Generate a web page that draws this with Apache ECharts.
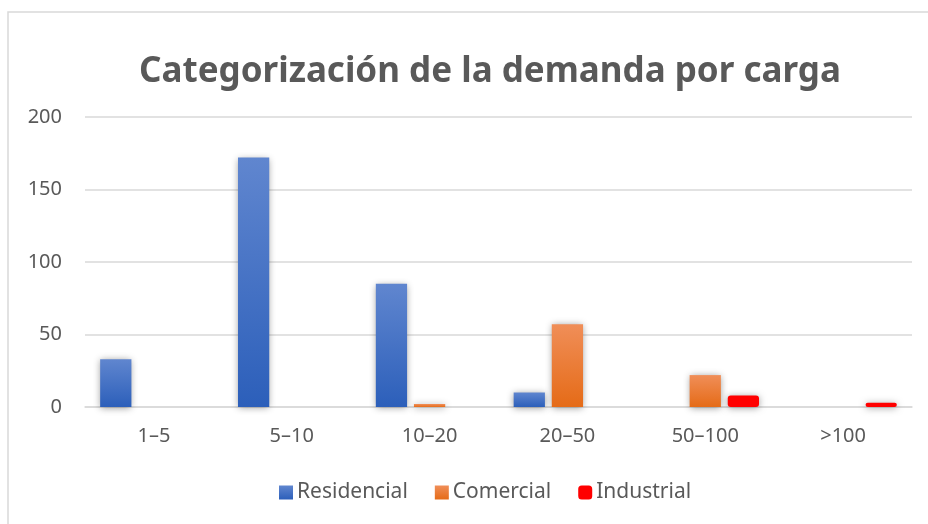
<!DOCTYPE html>
<html>
<head>
<meta charset="utf-8">
<script src="https://cdn.jsdelivr.net/npm/echarts@6/dist/echarts.min.js"></script>
<style>
  html, body { margin: 0; padding: 0; background: #fff; }
  #chart { width: 928px; height: 524px; }
</style>
</head>
<body>
<div id="chart"></div>
<script>
// categorias de carga
const categorias = ['1–5', '5–10', '10–20', '20–50', '50–100', '>100'];
// valores
const residencial = [33, 172, 85, 10, 0, 0];
const comercial = [0, 0, 2, 57, 22, 0];
const industrial = [0, 0, 0, 0, 8, 3];
const yTicks = [0, 50, 100, 150, 200];

const fontFam = '"Noto Sans", sans-serif';
const textColor = '#595959';

const shadow = {
    shadowBlur: 7,
    shadowColor: 'rgba(0,0,0,0.4)',
    shadowOffsetX: 0,
    shadowOffsetY: 1
};

const grad = (top, bottom) => new echarts.graphic.LinearGradient(0, 0, 0, 1, [
    { offset: 0, color: top },
    { offset: 1, color: bottom }
]);

let myChart = echarts.init(document.getElementById('chart'));
let option = {
    animation: false,
    backgroundColor: '#fff',
    title: {
        text: 'Categorización de la demanda por carga',
        left: 134,
        top: 50,
        textStyle: {
            fontFamily: fontFam,
            fontWeight: 'bold',
            fontSize: 35,
            color: textColor
        }
    },
    graphic: [{
        type: 'rect',
        shape: { x: 8, y: 12, width: 960, height: 560 },
        style: { fill: 'none', stroke: '#d9d9d9', lineWidth: 1.5 },
        silent: true,
        z: -1
    }],
    legend: {
        bottom: 16,
        left: 274,
        itemWidth: 14,
        itemHeight: 14,
        itemGap: 27,
        textStyle: { fontFamily: fontFam, fontSize: 21, color: textColor, padding: [0, 0, 0, -1] },
        data: [
            { name: 'Residencial', icon: 'rect' },
            { name: 'Comercial', icon: 'rect' },
            { name: 'Industrial', icon: 'roundRect' }
        ]
    },
    grid: { left: 85, right: 16, top: 117, bottom: 117 },
    xAxis: {
        type: 'category',
        data: categorias,
        axisLine: { lineStyle: { color: '#d9d9d9', width: 1.5 } },
        axisTick: { show: false },
        axisLabel: { fontFamily: fontFam, fontSize: 20, color: textColor, margin: 19 }
    },
    yAxis: {
        type: 'value',
        min: yTicks[0],
        max: yTicks[yTicks.length - 1],
        interval: 50,
        axisLine: { show: false },
        axisTick: { show: false },
        axisLabel: { fontFamily: fontFam, fontSize: 20, color: textColor, margin: 23 },
        splitLine: { lineStyle: { color: '#d9d9d9', width: 1.5 } }
    },
    series: [
        {
            name: 'Residencial',
            type: 'bar',
            data: residencial,
            barGap: '22%',
            barCategoryGap: '22%',
            itemStyle: Object.assign({ color: grad('#6086cf', '#2c5fba') }, shadow)
        },
        {
            name: 'Comercial',
            type: 'bar',
            data: comercial,
            itemStyle: Object.assign({ color: grad('#f08e58', '#e56b17') }, shadow)
        },
        {
            name: 'Industrial',
            type: 'bar',
            data: industrial,
            itemStyle: Object.assign({ color: '#ff0000', borderRadius: 3 }, shadow)
        }
    ]
};
myChart.setOption(option);
</script>
</body>
</html>
